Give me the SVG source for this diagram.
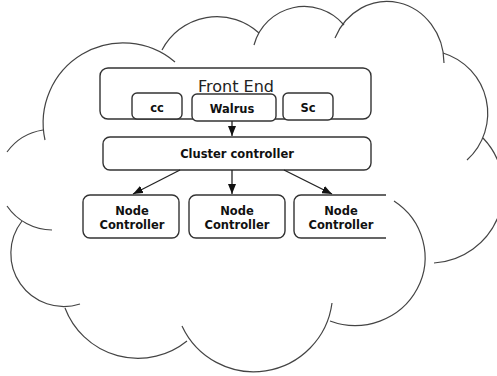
<svg xmlns="http://www.w3.org/2000/svg" width="497" height="376" viewBox="0 0 497 376">
<defs>
<marker id="ah" markerWidth="10" markerHeight="8" refX="10" refY="4" orient="auto" markerUnits="userSpaceOnUse">
<path d="M0,0 L10,4 L0,8 z" fill="#111"/>
</marker>
<style>
.cloud{fill:none;stroke:#444;stroke-width:1.2}
.box{fill:#fff;stroke:#333;stroke-width:1.4}
.t{font-family:"DejaVu Sans",sans-serif;font-weight:bold;font-size:11.5px;fill:#111;text-anchor:middle}
.fe{font-family:"DejaVu Sans",sans-serif;font-size:16px;fill:#222;text-anchor:middle}
.conn{stroke:#222;stroke-width:1.3;fill:none;marker-end:url(#ah)}
</style>
</defs>
<rect width="497" height="376" fill="#fff"/>
<g id="cloud" class="cloud">
<path d="M45,140 A80,80 0 0,1 175,62"/>
<path d="M7,152 A55,55 0 0,1 43,130"/>
<path d="M162,50 A62,62 0 0,1 259,33"/>
<path d="M254,45 A52,52 0 0,1 344,25"/>
<path d="M335,38 A57,62 0 0,1 444,63"/>
<path d="M443,53 A63,63 0 0,1 467,160"/>
<path d="M483,138 A74,74 0 0,1 434,263"/>
<path d="M394,201 A70,68 0 0,1 330,321"/>
<path d="M332,303 A79,79 0 0,1 182,326"/>
<path d="M187,341 A78,78 0 0,1 65,308"/>
<path d="M80,304 A53,53 0 0,1 22,221"/>
<path d="M52,230 A55,55 0 0,1 7,206"/>
</g>
<g id="frontend">
<rect class="box" x="100" y="68" width="271" height="51" rx="8"/>
<text class="fe" x="236" y="92">Front End</text>
</g>
<g id="cc">
<rect class="box" x="132" y="93" width="50" height="26" rx="5"/>
<text class="t" x="157" y="112">cc</text>
</g>
<g id="walrus">
<rect class="box" x="192" y="94" width="84" height="27" rx="5"/>
<text class="t" x="232" y="113">Walrus</text>
</g>
<g id="sc">
<rect class="box" x="283" y="93" width="50" height="27" rx="5"/>
<text class="t" x="308" y="112">Sc</text>
</g>
<g id="cluster">
<rect class="box" x="103" y="137" width="268" height="33" rx="7"/>
<text class="t" x="237" y="158">Cluster controller</text>
</g>
<g id="nc1">
<rect class="box" x="83" y="195" width="96" height="43" rx="7"/>
<text class="t" x="132" y="215" font-size="11">Node</text>
<text class="t" x="132" y="229" font-size="11">Controller</text>
</g>
<g id="nc2">
<rect class="box" x="189" y="195" width="96" height="43" rx="7"/>
<text class="t" x="237" y="215">Node</text>
<text class="t" x="237" y="229">Controller</text>
</g>
<g id="nc3">
<path class="box" d="M386,195 H301 A7,7 0 0 0 294,202 V231 A7,7 0 0 0 301,238 H386"/>
<text class="t" x="341" y="215">Node</text>
<text class="t" x="341" y="229">Controller</text>
</g>
<g id="connectors">
<line class="conn" x1="232" y1="121" x2="232" y2="136"/>
<line class="conn" x1="180" y1="170" x2="133" y2="194"/>
<line class="conn" x1="232" y1="170" x2="232" y2="194"/>
<line class="conn" x1="284" y1="170" x2="332" y2="194"/>
</g>
</svg>
